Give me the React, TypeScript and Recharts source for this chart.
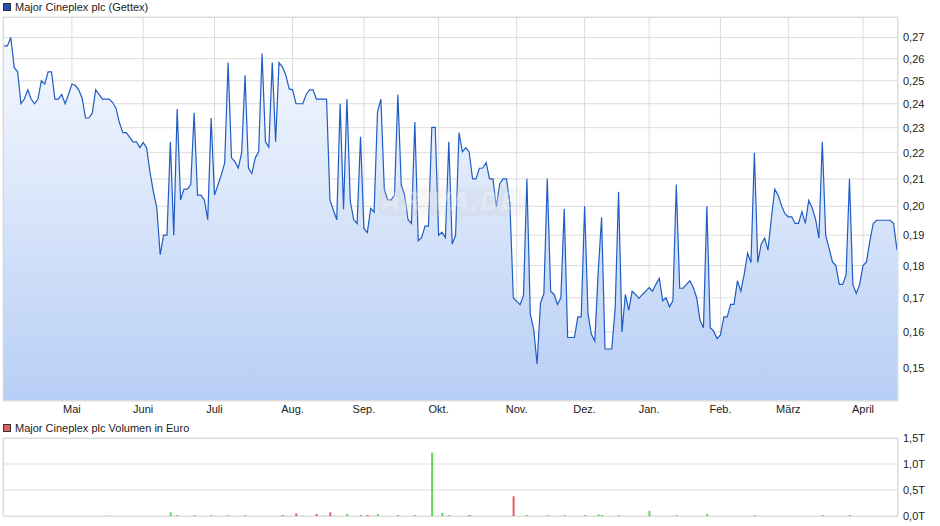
import React from 'react';
import { AreaChart, Area, XAxis, YAxis, CartesianGrid, BarChart, Bar, Cell } from 'recharts';

const prices: number[] = [
  0.266, 0.266, 0.27, 0.256, 0.254, 0.24, 0.242, 0.246, 0.242, 0.24, 0.242, 0.25, 0.2485, 0.254, 0.254,
  0.242, 0.242, 0.244, 0.24, 0.244, 0.2485, 0.248, 0.246, 0.2425, 0.234, 0.234, 0.236, 0.246, 0.244, 0.242,
  0.242, 0.242, 0.2405, 0.238, 0.232, 0.228, 0.228, 0.2262, 0.2243, 0.2243, 0.222, 0.224, 0.222, 0.2125, 0.2052,
  0.1995, 0.1835, 0.19, 0.19, 0.2243, 0.19, 0.2378, 0.2023, 0.2062, 0.2062, 0.2079, 0.2362, 0.204, 0.204, 0.2023,
  0.1953, 0.234, 0.204, 0.2077, 0.2115, 0.216, 0.2582, 0.218, 0.2165, 0.2141, 0.22, 0.2524, 0.214, 0.212, 0.218,
  0.2203, 0.2624, 0.2243, 0.2222, 0.2582, 0.2243, 0.2582, 0.2563, 0.2525, 0.2464, 0.246, 0.24, 0.24, 0.24,
  0.244, 0.246, 0.246, 0.242, 0.242, 0.242, 0.242, 0.2023, 0.1987, 0.1953, 0.24, 0.199, 0.242, 0.2017, 0.1953,
  0.194, 0.2263, 0.1923, 0.1909, 0.1993, 0.1979, 0.2365, 0.242, 0.2062, 0.2023, 0.2023, 0.204, 0.244, 0.2077, 0.204,
  0.1953, 0.194, 0.2323, 0.1881, 0.1892, 0.1931, 0.1931, 0.2301, 0.2301, 0.19, 0.191, 0.1892, 0.2243, 0.187,
  0.19, 0.228, 0.2203, 0.222, 0.2203, 0.21, 0.21, 0.214, 0.2141, 0.2162, 0.21, 0.21, 0.2, 0.2082, 0.21,
  0.21, 0.201, 0.17, 0.1689, 0.1679, 0.1708, 0.21, 0.1652, 0.1607, 0.1511, 0.1684, 0.1712, 0.21, 0.172, 0.171,
  0.168, 0.17, 0.1991, 0.1584, 0.1584, 0.1584, 0.1643, 0.1643, 0.2, 0.1652, 0.1593, 0.1574, 0.178, 0.1961,
  0.1552, 0.1552, 0.1552, 0.1669, 0.2052, 0.16, 0.171, 0.1662, 0.172, 0.171, 0.1698, 0.171, 0.172, 0.1731, 0.172,
  0.1741, 0.176, 0.1691, 0.17, 0.1673, 0.1691, 0.2079, 0.1729, 0.1729, 0.1741, 0.1752, 0.1731, 0.17, 0.1633, 0.1612,
  0.2, 0.1612, 0.1602, 0.1581, 0.1591, 0.1643, 0.1643, 0.168, 0.168, 0.1752, 0.172, 0.1772, 0.184, 0.181, 0.22,
  0.181, 0.187, 0.189, 0.185, 0.1958, 0.2062, 0.204, 0.2002, 0.1974, 0.1963, 0.1963, 0.194, 0.194, 0.1981, 0.194,
  0.2021, 0.1995, 0.1956, 0.189, 0.2243, 0.19, 0.1856, 0.1812, 0.18, 0.1741, 0.1741, 0.177, 0.21, 0.1741, 0.1713,
  0.1741, 0.18, 0.1812, 0.188, 0.194, 0.1951, 0.1951, 0.1951, 0.1951, 0.1951, 0.194, 0.185,
];

const monthLabels = ['Mai', 'Juni', 'Juli', 'Aug.', 'Sep.', 'Okt.', 'Nov.', 'Dez.', 'Jan.', 'Feb.', 'März', 'April'];
const monthIndex = [20, 41, 62, 85, 106, 128, 151, 171, 190, 211, 231, 253];

const priceTicks = [0.15, 0.16, 0.17, 0.18, 0.19, 0.2, 0.21, 0.22, 0.23, 0.24, 0.25, 0.26, 0.27, 0.28];
const priceDomain = [0.1415, 0.28];

const volumeIndex = [30, 49, 51, 56, 61, 66, 71, 82, 86, 88, 92, 94, 96, 101, 105, 107, 110, 116, 121, 126, 129, 131, 137,
  150, 154, 160, 165, 171, 175, 176, 181, 190, 198, 207, 221, 241, 249];
const volumeValue = [0.01, 0.07, 0.02, 0.02, 0.02, 0.02, 0.02, 0.02, 0.05, 0.01, 0.04, 0.01, 0.07, 0.04, 0.02, 0.02, 0.04, 0.02, 0.02, 1.22, 0.06, 0.02, 0.02,
  0.38, 0.02, 0.02, 0.02, 0.02, 0.03, 0.02, 0.02, 0.1, 0.02, 0.04, 0.02, 0.02, 0.02];
const volumeTicks = [0, 0.5, 1, 1.5];

const priceData = prices.map((p, i) => ({ i, p }));
const volumeData = volumeIndex.map((i, k) => ({ i, v: volumeValue[k] }));

const volColor = (i: number) => {
  const d = prices[i] - prices[i - 1];
  if (d > 0) return '#5cd65c';
  if (d < 0) return '#de5f5f';
  return '#bbbbbb';
};

const FONT = '"Liberation Sans", Arial, sans-serif';
const GRID = '#dcdcdc';

const PriceTick = (props: any) => {
  const { x, y, payload } = props;
  if (payload.value >= 0.279) return null;
  return (
    <text x={x} y={y} dy={4} fontSize={11} fill="#222" textAnchor="start" fontFamily={FONT}>
      {payload.value.toFixed(2).replace('.', ',')}
    </text>
  );
};

const VolTick = (props: any) => {
  const { x, y, payload } = props;
  return (
    <text x={x} y={y} dy={4} fontSize={11} fill="#222" textAnchor="start" fontFamily={FONT}>
      {payload.value.toFixed(1).replace('.', ',') + 'T'}
    </text>
  );
};

const legendBox = (color: string): React.CSSProperties => ({
  position: 'absolute', width: 6, height: 6, background: color, border: '1px solid #333',
});

export default function App() {
  return (
    <div style={{ position: 'absolute', left: 0, top: 0, width: 940, height: 526, background: '#fff', fontFamily: FONT, overflow: 'hidden' }}>
      <div style={{ ...legendBox('#1f52b4'), left: 3, top: 3 }} />
      <div style={{ position: 'absolute', left: 15, top: 0, fontSize: 11, lineHeight: '14px', color: '#222' }}>Major Cineplex plc (Gettex)</div>

      <div style={{ position: 'absolute', left: 0, top: 0 }}>
        <AreaChart width={940} height={415} data={priceData} margin={{ top: 17, right: 0, left: 3, bottom: 0 }}>
          <defs>
            <linearGradient id="priceFill" x1="0" y1="0" x2="0" y2="1">
              <stop offset="0%" stopColor="#f6f9fe" />
              <stop offset="100%" stopColor="#b7cef5" />
            </linearGradient>
          </defs>
          <CartesianGrid stroke={GRID} strokeWidth={1} />
          <XAxis dataKey="i" type="number" domain={[0, prices.length - 1]} ticks={monthIndex} interval={0}
            tickFormatter={(v: number) => monthLabels[monthIndex.indexOf(v)]}
            padding={{ left: 1, right: 1 }} height={14} tickLine={false} axisLine={false} tickSize={0} tickMargin={4}
            tick={{ fontSize: 11, fill: '#222', fontFamily: FONT }} />
          <YAxis orientation="right" scale="log" type="number" domain={priceDomain} allowDataOverflow ticks={priceTicks}
            interval={0} width={42} tickLine={false} axisLine={false} tickSize={0} tickMargin={5} tick={<PriceTick />} />
          <Area type="linear" dataKey="p" stroke="#1f5cc4" strokeWidth={1.2} fill="url(#priceFill)" fillOpacity={1}
            dot={false} activeDot={false} isAnimationActive={false} />
        </AreaChart>
      </div>
      <div style={{ position: 'absolute', left: 3, top: 17, width: 895, height: 384, border: `1px solid ${GRID}`, boxSizing: 'border-box', pointerEvents: 'none' }} />
      <div style={{ position: 'absolute', left: 377, top: 187, width: 148, height: 29, borderRadius: 10, background: 'rgba(200,200,200,0.16)', color: 'rgba(255,255,255,0.3)', fontSize: 26, fontWeight: 'bold', fontStyle: 'italic', lineHeight: '29px', textAlign: 'center', letterSpacing: 2, pointerEvents: 'none' }}>ARIVA.DE</div>

      <div style={{ ...legendBox('#de5f5f'), left: 3, top: 424 }} />
      <div style={{ position: 'absolute', left: 15, top: 421, fontSize: 11, lineHeight: '14px', color: '#222' }}>Major Cineplex plc Volumen in Euro</div>

      <div style={{ position: 'absolute', left: 0, top: 420 }}>
        <BarChart width={940} height={106} data={volumeData} margin={{ top: 18, right: 0, left: 3, bottom: 10 }}>
          <CartesianGrid stroke={GRID} strokeWidth={1} />
          <XAxis dataKey="i" type="number" domain={[0, prices.length - 1]} ticks={monthIndex} interval={0}
            padding={{ left: 1, right: 1 }} height={0} tick={false} tickLine={false} axisLine={false} />
          <YAxis orientation="right" type="number" domain={[0, 1.5]} ticks={volumeTicks} interval={0} width={42}
            tickLine={false} axisLine={false} tickSize={0} tickMargin={5} tick={<VolTick />} />
          <Bar dataKey="v" barSize={2} isAnimationActive={false}>
            {volumeData.map((d) => (
              <Cell key={d.i} fill={volColor(d.i)} />
            ))}
          </Bar>
        </BarChart>
      </div>
      <div style={{ position: 'absolute', left: 3, top: 438, width: 895, height: 79, border: `1px solid ${GRID}`, boxSizing: 'border-box', pointerEvents: 'none' }} />
    </div>
  );
}
